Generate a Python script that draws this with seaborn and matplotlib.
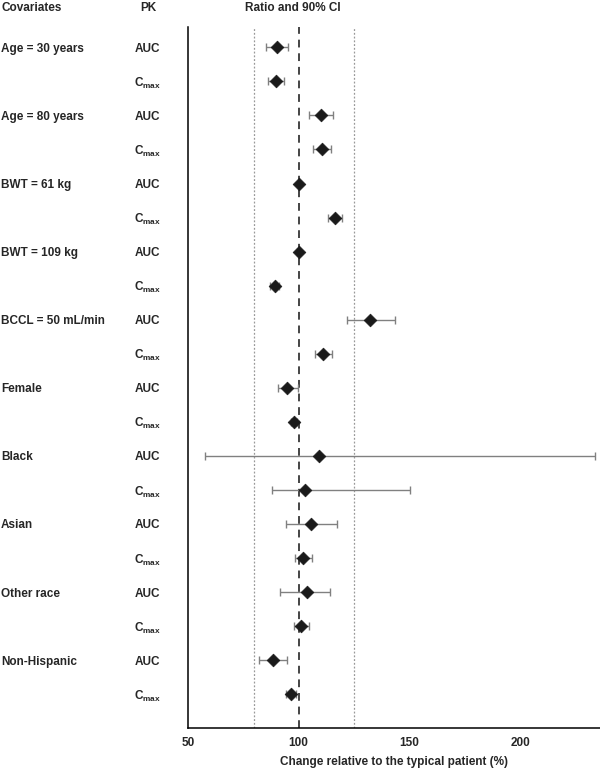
import numpy as np
import pandas as pd
import matplotlib
matplotlib.use("Agg")
import matplotlib.pyplot as plt
import matplotlib.transforms as mtransforms
import seaborn as sns

covariates = ["Age = 30 years", "Age = 80 years", "BWT = 61 kg", "BWT = 109 kg",
              "BCCL = 50 mL/min", "Female", "Black", "Asian", "Other race", "Non-Hispanic"]
pk_params = ["AUC", "Cmax"]

ratio = [90.3, 89.6, 109.9, 110.5, 100.1, 116.4, 100.0, 89.3, 132.3, 111.1,
         94.8, 98.0, 109.0, 103.1, 105.4, 101.8, 103.6, 101.2, 88.4, 96.5]
ci_low = [85.3, 86.3, 104.8, 106.4, 99.6, 113.4, 99.5, 87.3, 121.8, 107.5,
          90.8, 96.6, 57.8, 88.2, 94.5, 98.2, 91.8, 98.0, 82.0, 94.1]
ci_high = [95.1, 93.2, 115.3, 114.7, 100.6, 119.4, 100.5, 91.2, 143.6, 114.9,
           99.8, 99.4, 233.9, 150.4, 117.3, 106.0, 114.1, 104.6, 94.7, 98.6]

rows = []
for i, cov in enumerate(covariates):
    for j, pk in enumerate(pk_params):
        rows.append({"covariate": cov, "pk": pk})
df = pd.DataFrame(rows)
df["ratio"] = ratio
df["lo"] = ci_low
df["hi"] = ci_high
df["pos"] = np.arange(len(df))

sns.set_theme(style="white")
plt.rcParams["font.family"] = ["Liberation Sans", "DejaVu Sans"]
plt.rcParams["mathtext.fontset"] = "custom"
plt.rcParams["mathtext.rm"] = "Liberation Sans:bold"
plt.rcParams["mathtext.bf"] = "Liberation Sans:bold"

fig = plt.figure(figsize=(6, 7.69), dpi=100)
ax = fig.add_axes([0.313, 0.053, 0.687, 0.912])

ax.axvline(100, color="#444444", linestyle=(0, (4, 3)), linewidth=1.4, zorder=1)
ax.axvline(80, color="#999999", linestyle=(0, (1.5, 1.5)), linewidth=0.9, zorder=1)
ax.axvline(125, color="#999999", linestyle=(0, (1.5, 1.5)), linewidth=0.9, zorder=1)

ax.errorbar(df["ratio"], df["pos"],
            xerr=[df["ratio"] - df["lo"], df["hi"] - df["ratio"]],
            fmt="none", ecolor="#808080", elinewidth=1.0, capsize=3, capthick=1.0, zorder=2)
sns.scatterplot(data=df, x="ratio", y="pos", marker="D", s=42, color="#1a1a1a",
                edgecolor="#1a1a1a", linewidth=0.5, ax=ax, zorder=3, legend=False)

ax.set_xlim(50, 236)
ax.set_ylim(20.0, -0.6)
ax.set_yticks([])
ax.set_xticks([50, 100, 150, 200])
ax.set_xticklabels(["50", "100", "150", "200"], fontweight="bold", fontsize=8.5)
ax.tick_params(axis="x", length=0, pad=6)
ax.set_xlabel("Change relative to the typical patient (%)", fontweight="bold", fontsize=8.5, labelpad=5)
ax.set_ylabel("")
for s in ["top", "right"]:
    ax.spines[s].set_visible(False)
for s in ["left", "bottom"]:
    ax.spines[s].set_color("black")
    ax.spines[s].set_linewidth(1.1)

trans = mtransforms.blended_transform_factory(fig.transFigure, ax.transData)
for _, r in df.iterrows():
    if r["pk"] == "AUC":
        fig.text(0.002, r["pos"], r["covariate"], transform=trans, ha="left", va="center_baseline",
                 fontweight="bold", fontsize=8.5)
        fig.text(0.246, r["pos"], "AUC", transform=trans, ha="center", va="center_baseline",
                 fontweight="bold", fontsize=8.5)
    else:
        fig.text(0.246, r["pos"], r"C$_{\mathbf{max}}$", transform=trans, ha="center", va="center_baseline",
                 fontweight="bold", fontsize=8.5)

fig.text(0.002, 0.99, "Covariates", ha="left", va="center", fontweight="bold", fontsize=8.5)
fig.text(0.247, 0.99, "PK", ha="center", va="center", fontweight="bold", fontsize=8.5)
fig.text(0.488, 0.99, "Ratio and 90% CI", ha="center", va="center", fontweight="bold", fontsize=8.5)

fig.savefig("out.png", dpi=100)
